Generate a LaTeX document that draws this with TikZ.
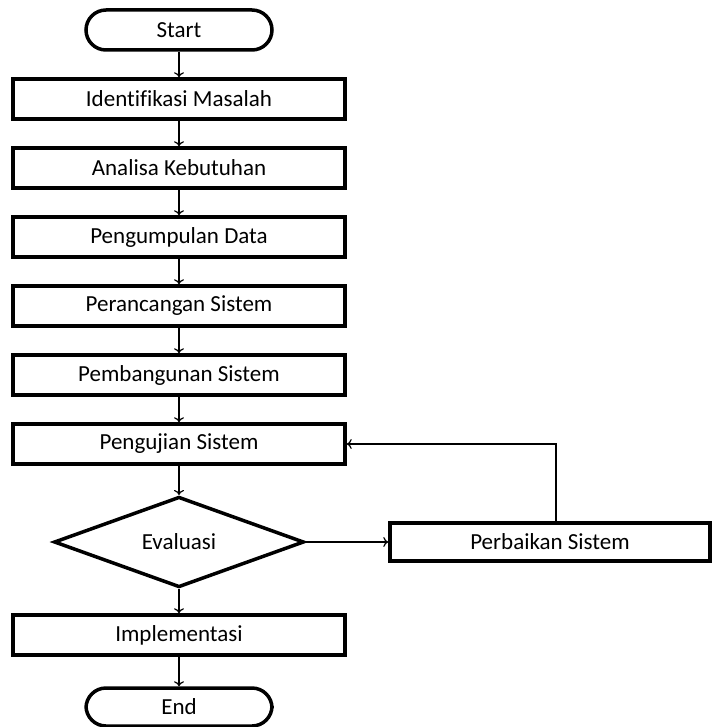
\documentclass[tikz,border=0pt]{standalone}
\usepackage{fontspec}
\setmainfont[Ligatures=NoCommon]{Carlito}
\usetikzlibrary{shapes.geometric, arrows.meta}

\begin{document}
\begin{tikzpicture}[x=1pt, y=1pt, node distance=69pt,
		every node/.style={font=\fontsize{23}{27}\selectfont},
		proses/.style={draw, line width=3.5pt, minimum width=332pt, minimum height=40pt},
		ujung/.style={draw, line width=3.5pt, rounded corners=20pt, minimum width=186pt, minimum height=40pt},
		keputusan/.style={draw, diamond, line width=3.5pt, minimum width=250pt, minimum height=78pt, inner sep=0pt},
		panah/.style={-{To[length=5pt, width=10pt]}, line width=1.2pt}]
		\useasboundingbox (0,0) rectangle (712,-727);
		\node[ujung] (x1) at (179,-30) {Start};
		\node[proses] (x2) [below of=x1]{Identifikasi Masalah};
		\draw[panah] (x1) -- (x2);
		\node[proses] (x3) [below of=x2]{Analisa Kebutuhan};
		\draw[panah] (x2) -- (x3);
		\node[proses] (x4) [below of=x3]{Pengumpulan Data};
		\draw[panah] (x3) -- (x4);
		\node[proses] (x5) [below of=x4]{Perancangan Sistem};
		\draw[panah] (x4) -- (x5);
		\node[proses] (x6) [below of=x5]{Pembangunan Sistem};
		\draw[panah] (x5) -- (x6);
		\node[proses] (x7) [below of=x6]{Pengujian Sistem};
		\draw[panah] (x6) -- (x7);
		
		\node[keputusan] (x8) [below of=x7,yshift=-29pt]{Evaluasi};
		\draw[panah] (x7) -- (x8);
		\node[proses, minimum width=320pt, minimum height=38pt] (x9) [right of=x8,xshift=302pt]{Perbaikan Sistem};
		\draw[panah] (x8) -- (x9);
		\draw[panah] ([xshift=6pt]x9.north) |- (x7.east);
		
		\node[proses] (x10) [below of=x8,yshift=-24pt]{Implementasi};
		\draw[panah] (x8) -- (x10);
		\node[ujung, minimum height=38pt] (x11) [below of=x10,yshift=-3pt]{End};
		\draw[panah] (x10) -- (x11);
		\end{tikzpicture}
\end{document}
